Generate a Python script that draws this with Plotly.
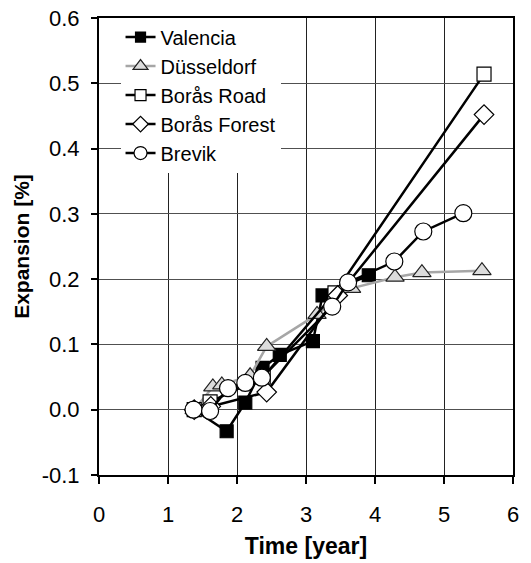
import plotly.graph_objects as go

# Data
valencia_x = [1.38, 1.85, 2.12, 2.37, 2.62, 3.10, 3.24, 3.91]
valencia_y = [0.000, -0.033, 0.011, 0.064, 0.084, 0.105, 0.175, 0.206]

duss_x = [1.38, 1.65, 1.78, 2.19, 2.43, 3.16, 3.66, 4.29, 4.68, 5.55]
duss_y = [0.000, 0.035, 0.038, 0.052, 0.097, 0.146, 0.186, 0.203, 0.210, 0.213]

road_x = [1.38, 1.61, 2.38, 3.42, 5.58]
road_y = [0.000, 0.012, 0.050, 0.179, 0.514]

forest_x = [1.38, 1.62, 2.43, 3.46, 5.58]
forest_y = [0.000, 0.005, 0.027, 0.175, 0.452]

brevik_x = [1.37, 1.61, 1.87, 2.12, 2.36, 3.38, 3.61, 4.28, 4.70, 5.28]
brevik_y = [0.000, -0.002, 0.033, 0.041, 0.049, 0.158, 0.195, 0.227, 0.273, 0.301]

series_names = ["Valencia", "Düsseldorf", "Borås Road", "Borås Forest", "Brevik"]

y_ticks = [-0.1, 0.0, 0.1, 0.2, 0.3, 0.4, 0.5, 0.6]
y_ticktext = ["-0.1", "0.0", "0.1", "0.2", "0.3", "0.4", "0.5", "0.6"]
x_ticks = [0, 1, 2, 3, 4, 5, 6]

FONT = "Liberation Sans, Arial, sans-serif"

styles = [
    dict(line=dict(color="black", width=2.5), sym="square", size=13, fill="black", lc="black"),
    dict(line=dict(color="#a6a6a6", width=2.5), sym="triangle-up", size=16, fill="#dcdcdc", lc="#222222"),
    dict(line=dict(color="black", width=2.5), sym="square", size=14, fill="white", lc="black"),
    dict(line=dict(color="black", width=2.5), sym="diamond", size=15, fill="white", lc="black"),
    dict(line=dict(color="black", width=2.5), sym="circle", size=17, fill="white", lc="black"),
]
legend_sizes = [10, 13, 11, 12, 13]
xs = [valencia_x, duss_x, road_x, forest_x, brevik_x]
ys = [valencia_y, duss_y, road_y, forest_y, brevik_y]

fig = go.Figure()
for name, x, y, st in zip(series_names, xs, ys, styles):
    fig.add_trace(go.Scatter(
        x=x, y=y, name=name, mode="lines+markers", showlegend=False,
        line=st["line"],
        marker=dict(symbol=st["sym"], size=st["size"], color=st["fill"],
                    line=dict(color=st["lc"], width=1.2))))
# legend entries (smaller markers, as in the reference)
for name, st, ls in zip(series_names, styles, legend_sizes):
    fig.add_trace(go.Scatter(
        x=[None], y=[None], name=name, mode="lines+markers", showlegend=True,
        line=dict(color=st["line"]["color"], width=2.5),
        marker=dict(symbol=st["sym"], size=ls, color=st["fill"],
                    line=dict(color=st["lc"], width=1.2))))

fig.update_layout(
    width=531, height=563,
    margin=dict(l=99, r=18, t=18, b=88, autoexpand=False),
    paper_bgcolor="white", plot_bgcolor="white",
    font=dict(family=FONT, size=22, color="black"),
    showlegend=True,
    legend=dict(x=0.052, y=1.001, xanchor="left", yanchor="top",
                bgcolor="white", borderwidth=0,
                font=dict(family=FONT, size=20, color="black"),
                tracegroupgap=0, itemwidth=30),
)
fig.update_xaxes(
    range=[0, 6], tickvals=x_ticks, ticks="outside", ticklen=7, tickwidth=1.5, tickcolor="black",
    showline=True, linecolor="black", linewidth=2, mirror=True, automargin=False,
    showgrid=True, gridcolor="#222222", gridwidth=1, zeroline=False,
    tickfont=dict(family=FONT, size=22), ticklabelstandoff=12,
    title=dict(text="<b>Time [year]</b>", font=dict(family=FONT, size=23), standoff=11),
)
fig.update_yaxes(
    range=[-0.1, 0.6], tickvals=y_ticks, ticktext=y_ticktext, ticks="outside", ticklen=6,
    tickwidth=1.5, tickcolor="black", automargin=False,
    showline=True, linecolor="black", linewidth=2, mirror=True,
    showgrid=True, gridcolor="#505050", gridwidth=1, zeroline=False,
    tickfont=dict(family=FONT, size=22), ticklabelstandoff=7,
    title=dict(text="<b>Expansion [%]</b>", font=dict(family=FONT, size=21), standoff=6),
)

fig.write_html("out.html")
